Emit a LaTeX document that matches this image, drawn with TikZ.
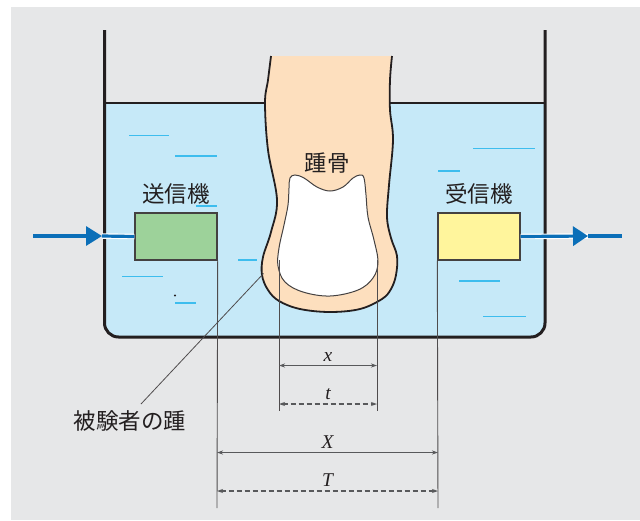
\documentclass[tikz,border=0pt]{standalone}
\usepackage{fontspec}
\usepackage{tikz}
\usetikzlibrary{arrows.meta}
\newfontfamily\jpfont{Noto Sans CJK JP}
\newfontfamily\dimfont{Liberation Serif}
\definecolor{bggray}{HTML}{E6E7E8}
\definecolor{water}{HTML}{C6E9F8}
\definecolor{ripple}{HTML}{3DBDEE}
\definecolor{skin}{HTML}{FDDFBE}
\definecolor{txgreen}{HTML}{9DD29A}
\definecolor{rxyellow}{HTML}{FFF59C}
\definecolor{sigblue}{HTML}{0B6FB8}
\definecolor{ink}{HTML}{231F20}
\definecolor{dimgray}{HTML}{58595B}

\begin{document}
\begin{tikzpicture}[x=1pt, y=-1pt,
		wall_style/.style={draw=ink, line width=3pt, rounded corners=14pt},
		surface_style/.style={draw=ink, line width=2.2pt},
		ripple_style/.style={draw=ripple, line width=1.6pt},
		heel_style/.style={draw=ink, line width=1.8pt, fill=skin},
		bone_style/.style={draw=ink!85, line width=1pt, fill=white},
		box_style/.style={draw=ink!85, line width=1.4pt, minimum width=82pt, minimum height=47pt, inner sep=0pt},
		label_style/.style={font=\jpfont\fontsize{22.5}{26}\selectfont, text=ink},
		ext_style/.style={draw=ink!80, line width=0.9pt},
		lead_style/.style={draw=ink!80, line width=0.8pt},
		dim_style/.style={draw=dimgray, line width=1.2pt, {Stealth[length=6pt,width=4pt]}-{Stealth[length=6pt,width=4pt]}},
		dim_label/.style={font=\dimfont\itshape\fontsize{19.5}{22}\selectfont, text=ink, inner sep=0pt, above=3.5pt},
		casing_style/.style={draw=white, line width=5.5pt},
		signal_style/.style={draw=sigblue, line width=3.2pt}]

		\useasboundingbox (0,0) rectangle (640,520);
		\fill[bggray] (11,7) rectangle (640,520);

		% tank and water
		\fill[water] (104.5,103) rectangle (545,300);
		\fill[water, rounded corners=14pt] (104.5,250) rectangle (545,337);
		\foreach \xa/\xb/\yy in {129/169/135.5, 175/217/156, 196/217/206, 238/257/260, 122/163/276.5,
				175/196/303, 473/535/148.5, 438/460/171, 459/500/281, 483/526/316.5}
			\draw[ripple_style] (\xa,\yy) -- (\xb,\yy);
		\fill[ink] (175,295.5) circle (1.1pt);
		\draw[surface_style] (104.5,103) -- (545,103);
		\draw[wall_style] (104.5,30) -- (104.5,337) -- (545,337) -- (545,30);

		% heel and bone
		\filldraw[heel_style] plot[smooth, tension=0.6] coordinates {(271,56) (268,80) (265,103) (268,150)
			(277,200) (271,232) (263,257) (262,275) (268,290) (279,301) (300,309) (330,312) (360,309)
			(382,299) (391,289) (396,275) (397,256) (391,238) (387,217) (389,185) (393,140) (390,110)
			(390,80) (392,56)};
		\filldraw[bone_style] plot[smooth cycle, tension=0.6] coordinates {(290,178) (295,175) (304,178)
			(317,187) (330,191) (343,187) (353,178) (360,175) (364,178) (366,195) (368,217) (374,240)
			(378,262) (373,278) (358,290) (330,296) (303,292) (285,282) (278,266) (279,248) (284,225)
			(288,205) (289,188)};

		\node[label_style] (n_bone) at (327,163) {踵骨};

		% transmitter and receiver
		\node[box_style, fill=txgreen] (n_tx) at (176,236.5) {};
		\node[box_style, fill=rxyellow] (n_rx) at (479,236.5) {};
		\node[label_style] (n_txlabel) at (176,194) {送信機};
		\node[label_style] (n_rxlabel) at (479,194) {受信機};

		\coordinate (in_start) at (33,236);
		\coordinate (in_tip) at (102,236);
		\coordinate (out_tip) at (588,236);
		\coordinate (out_end) at (622,236);
		\draw[casing_style] (in_tip) -- (n_tx.west);
		\draw[signal_style] (in_tip) -- (n_tx.west);
		\draw[signal_style, -{Triangle[length=16pt,width=19pt]}] (in_start) -- (in_tip);
		\draw[casing_style] (n_rx.east) -- (out_tip);
		\draw[signal_style, -{Triangle[length=15pt,width=19pt]}] (n_rx.east) -- (out_tip);
		\draw[signal_style] (out_tip) -- (out_end);

		% extension lines
		\coordinate (b_left) at (279,260);
		\coordinate (b_right) at (377,260);
		\coordinate (b_left_foot) at (279,411);
		\coordinate (b_right_foot) at (377,411);
		\coordinate (tx_foot) at (217,508);
		\coordinate (rx_foot) at (438,508);
		\draw[ext_style] (b_left) -- (b_left_foot);
		\draw[ext_style] (b_right) -- (b_right_foot);
		\draw[ext_style] (n_tx.south east) -- (tx_foot);
		\draw[ext_style] (n_rx.south west) -- (rx_foot);

		% dimensions
		\coordinate (x_l) at (279,365.5);
		\coordinate (x_r) at (377,365.5);
		\coordinate (t_l) at (279,404);
		\coordinate (t_r) at (377,404);
		\coordinate (xx_l) at (217,452.5);
		\coordinate (xx_r) at (438,452.5);
		\coordinate (tt_l) at (217,491);
		\coordinate (tt_r) at (438,491);
		\draw[dim_style] (x_l) -- node[dim_label] {x} (x_r);
		\draw[dim_style, dash pattern=on 5pt off 3pt] (t_l) -- node[dim_label] {t} (t_r);
		\draw[dim_style] (xx_l) -- node[dim_label] {X} (xx_r);
		\draw[dim_style, dash pattern=on 5pt off 3pt] (tt_l) -- node[dim_label] {T} (tt_r);

		% leader to the heel
		\coordinate (heel_pt) at (263.5,273.5);
		\coordinate (lead_end) at (141,404);
		\node[label_style] (n_subject) at (130,421) {被験者の踵};
		\draw[lead_style] (heel_pt) -- (lead_end);

\end{tikzpicture}
\end{document}
